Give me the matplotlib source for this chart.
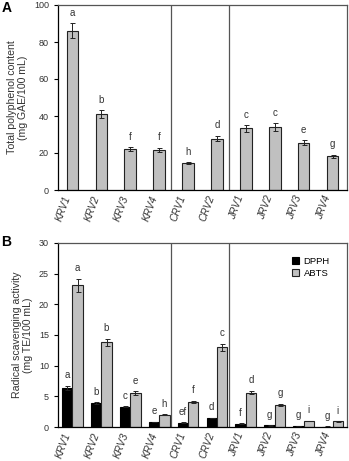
import matplotlib
matplotlib.use('Agg')
import matplotlib.pyplot as plt
import numpy as np

plt.rcParams['font.family'] = ['Liberation Sans', 'DejaVu Sans']

# Samples
samples = ['KRV1', 'KRV2', 'KRV3', 'KRV4', 'CRV1', 'CRV2', 'JRV1', 'JRV2', 'JRV3', 'JRV4']

# Panel A: total polyphenol content
tpc = [86.0, 41.0, 22.0, 21.7, 14.5, 27.8, 33.3, 34.0, 25.6, 18.2]
tpc_err = [4.0, 2.0, 1.0, 1.0, 0.6, 1.5, 1.8, 2.0, 1.3, 0.8]
tpc_letters = ['a', 'b', 'f', 'f', 'h', 'd', 'c', 'c', 'e', 'g']

# Panel B: radical scavenging
dpph = [6.4, 3.9, 3.3, 0.8, 0.7, 1.45, 0.55, 0.25, 0.15, 0.08]
dpph_err = [0.3, 0.15, 0.1, 0.05, 0.05, 0.05, 0.05, 0.03, 0.02, 0.02]
dpph_letters = ['a', 'b', 'c', 'e', 'ef', 'd', 'f', 'g', 'g', 'g']
abts = [23.1, 13.8, 5.5, 2.0, 4.05, 13.0, 5.6, 3.65, 1.0, 0.9]
abts_err = [1.1, 0.6, 0.3, 0.1, 0.2, 0.6, 0.3, 0.15, 0.05, 0.05]
abts_letters = ['a', 'b', 'e', 'h', 'f', 'c', 'd', 'g', 'i', 'i']

separators = [3.4, 5.4]

fig = plt.figure(figsize=(3.49, 4.61), dpi=100)
axA = fig.add_axes([58/349, 1-190/461, 289/349, 185/461])
axB = fig.add_axes([58/349, 1-427/461, 289/349, 184/461])

x = np.arange(len(samples))
grey = '#c0c0c0'
edge = '#222222'
txt = '#333333'
fs = 6.5
ekw = dict(ecolor='#222222', elinewidth=0.7, capsize=1.8, capthick=0.7)

# ---- Panel A
axA.bar(x, tpc, width=0.4, color=grey, edgecolor=edge, linewidth=0.8,
        yerr=tpc_err, error_kw=ekw)
for xi, v, e, l in zip(x, tpc, tpc_err, tpc_letters):
    axA.text(xi, v + e + 3, l, ha='center', va='bottom', fontsize=7, color=txt)
axA.set_ylim(0, 100)
axA.set_yticks(range(0, 101, 20))
axA.set_ylabel('Total polyphenol content\n(mg GAE/100 mL)', fontsize=7.6, color=txt, labelpad=4)
fig.text(0.004, 1 - 8/461, 'A', fontsize=10, fontweight='bold', va='center', ha='left')

# ---- Panel B
w = 0.36
axB.bar(x - w/2, dpph, width=w, color='black', edgecolor='black', linewidth=0.8,
        yerr=dpph_err, error_kw=ekw, label='DPPH')
axB.bar(x + w/2, abts, width=w, color=grey, edgecolor=edge, linewidth=0.8,
        yerr=abts_err, error_kw=ekw, label='ABTS')
for xi, v, e, l in zip(x, dpph, dpph_err, dpph_letters):
    axB.text(xi - w/2, v + e + 0.9, l, ha='center', va='bottom', fontsize=7, color=txt)
for xi, v, e, l in zip(x, abts, abts_err, abts_letters):
    axB.text(xi + w/2, v + e + 0.9, l, ha='center', va='bottom', fontsize=7, color=txt)
axB.set_ylim(0, 30)
axB.set_yticks(range(0, 31, 5))
axB.set_ylabel('Radical scavenging activity\n(mg TE/100 mL)', fontsize=7.6, color=txt, labelpad=4)
fig.text(0.004, 1 - 242/461, 'B', fontsize=10, fontweight='bold', va='center', ha='left')
axB.legend(loc='upper right', frameon=False, fontsize=6.8, handlelength=0.7, handleheight=0.7,
           handletextpad=0.5, labelspacing=0.3, bbox_to_anchor=(0.97, 0.97))

for ax in (axA, axB):
    ax.set_xlim(-0.5, 9.5)
    ax.set_xticks(x)
    ax.set_xticklabels(samples, rotation=70, ha='right', fontsize=7.3, style='italic', color=txt)
    ax.tick_params(axis='x', length=0, pad=3)
    ax.tick_params(axis='y', direction='out', length=3, labelsize=fs, labelcolor=txt, width=0.8)
    for s in separators:
        ax.axvline(s, color='#555555', linewidth=0.9)
    for side in ('top', 'right'):
        ax.spines[side].set_color('#555555')
        ax.spines[side].set_linewidth(0.9)
    for side in ('left', 'bottom'):
        ax.spines[side].set_color('black')
        ax.spines[side].set_linewidth(0.9)

fig.savefig('out.png', dpi=100)
